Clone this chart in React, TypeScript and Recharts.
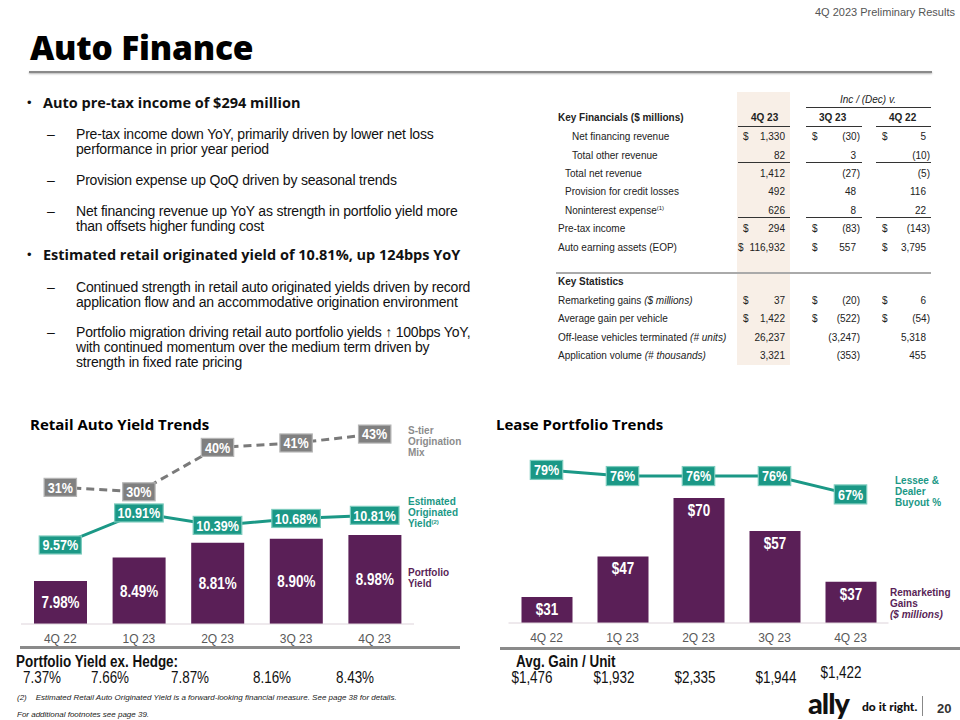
import React from "react";
import { ComposedChart, Bar, Line, XAxis, YAxis, LabelList } from "recharts";

const quarters = ["4Q 22", "1Q 23", "2Q 23", "3Q 23", "4Q 23"];

// Retail Auto Yield Trends
const portfolioYield = [7.98, 8.49, 8.81, 8.9, 8.98];
const originatedYield = [9.57, 10.91, 10.39, 10.68, 10.81];
const sTierMix = [31, 30, 40, 41, 43];

// Lease Portfolio Trends
const remarketingGains = [31, 47, 70, 57, 37];
const buyoutPct = [79, 76, 76, 76, 67];

// bottom rows
const yieldExHedge = [7.37, 7.66, 7.87, 8.16, 8.43];
const avgGainPerUnit = [1476, 1932, 2335, 1944, 1422];

// table
const finLabels = [
  "Net financing revenue",
  "Total other revenue",
  "Total net revenue",
  "Provision for credit losses",
  "Noninterest expense",
  "Pre-tax income",
  "Auto earning assets (EOP)",
];
const fin4Q23 = [1330, 82, 1412, 492, 626, 294, 116932];
const finVs3Q23 = [-30, 3, -27, 48, 8, -83, 557];
const finVs4Q22 = [5, -10, -5, 116, 22, -143, 3795];
const finDollarRows = [0, 5, 6];

const statLabels = [
  "Remarketing gains",
  "Average gain per vehicle",
  "Off-lease vehicles terminated",
  "Application volume",
];
const statUnits = ["($ millions)", "", "(# units)", "(# thousands)"];
const stat4Q23 = [37, 1422, 26237, 3321];
const statVs3Q23 = [-20, -522, -3247, -353];
const statVs4Q22 = [6, -54, 5318, 455];
const statDollarRows = [0, 1];

const PURPLE = "#5a1f57";
const TEAL = "#1b9886";
const GRAY = "#808080";
const ARIAL = "'Liberation Sans', Arial, sans-serif";
const HEAD = "'Open Sans', Lato, sans-serif";
const SQ = 0.84; // horizontal squeeze to mimic Arial Narrow

const yieldData = quarters.map((q, i) => ({
  q,
  port: portfolioYield[i],
  orig: originatedYield[i],
  stier: sTierMix[i],
}));

const leaseData = quarters.map((q, i) => ({
  q,
  gain: remarketingGains[i],
  buyout: buyoutPct[i],
}));

const fmtNum = (n: number) => {
  const s = Math.abs(n).toLocaleString("en-US");
  return n < 0 ? `(${s})` : s;
};

const textW = (s: string) => {
  let w = 0;
  for (const c of s) {
    if (c === "." || c === ",") w += 3.2;
    else if (c === "%") w += 10.4;
    else w += 6.5;
  }
  return w;
};

const pos = (p: any) => {
  const vb = p.viewBox || {};
  return {
    x: p.x ?? vb.x,
    y: p.y ?? vb.y,
    width: p.width ?? vb.width ?? 0,
    height: p.height ?? vb.height ?? 0,
  };
};

const NarrowText = ({ x, y, size, children }: any) => (
  <text
    transform={`translate(${x} ${y}) scale(${SQ} 1)`}
    dy="0.36em"
    textAnchor="middle"
    fill="#fff"
    fontSize={size}
    fontWeight={700}
    fontFamily={ARIAL}
  >
    {children}
  </text>
);

const boxLabel =
  (fill: string, stroke: string, fmt: (v: number) => string, h: number) =>
  (p: any) => {
    const { x, y } = pos(p);
    const text = fmt(p.value);
    const w = textW(text) + 9;
    return (
      <g>
        <rect x={x - w / 2} y={y - h / 2} width={w} height={h} fill={fill} stroke={stroke} strokeWidth={1.2} />
        <NarrowText x={x} y={y} size={15}>
          {text}
        </NarrowText>
      </g>
    );
  };

const barLabel =
  (fmt: (v: number) => string, mode: "center" | "top") =>
  (p: any) => {
    const { x, y, width, height } = pos(p);
    const cy = mode === "center" ? y + height / 2 : y + 12;
    return (
      <NarrowText x={x + width / 2} y={cy} size={16}>
        {fmt(p.value)}
      </NarrowText>
    );
  };

const T = ({ x, y, children, style, right }: any) => (
  <div
    style={{
      position: "absolute",
      left: right ? undefined : x,
      right: right ? 960 - x : undefined,
      top: y - 7,
      lineHeight: "14px",
      whiteSpace: "nowrap",
      ...style,
    }}
  >
    {children}
  </div>
);

// squeezed html text, centred on cx
const N = ({ cx, y, children, style }: any) => (
  <div
    style={{
      position: "absolute",
      left: cx - 60,
      width: 120,
      textAlign: "center",
      top: y - 8,
      lineHeight: "16px",
      whiteSpace: "nowrap",
      transform: `scaleX(${SQ})`,
      ...style,
    }}
  >
    {children}
  </div>
);

const tblRowsY = [137, 156, 174, 192, 211, 229, 248];
const statRowsY = [301, 319, 338, 356];

function TableRow({ y, label, indent, v1, v2, v3, dollar, unit }: any) {
  const ts = { fontSize: 10, fontFamily: ARIAL, color: "#222" };
  const val = (v: number, r: number) => (
    <T x={v < 0 ? r + 4 : r} y={y} right style={ts}>
      {fmtNum(v)}
    </T>
  );
  return (
    <>
      <T x={558 + indent} y={y} style={ts}>
        {label}
        {unit ? <i> {unit}</i> : null}
        {label === "Noninterest expense" ? (
          <span style={{ fontSize: 6, position: "relative", top: -4 }}>(1)</span>
        ) : null}
      </T>
      {dollar && <T x={v1 >= 100000 ? 738 : 743} y={y} style={ts}>$</T>}
      {dollar && <T x={812} y={y} style={ts}>$</T>}
      {dollar && <T x={882} y={y} style={ts}>$</T>}
      {val(v1, 785)}
      {val(v2, 856)}
      {val(v3, 926)}
    </>
  );
}

const HLine = ({ x1, x2, y, c = "#333", w = 1 }: any) => (
  <div style={{ position: "absolute", left: x1, top: y, width: x2 - x1, height: w, background: c }} />
);

export default function App() {
  const legendS = { fontSize: 10, fontWeight: 700, fontFamily: ARIAL, lineHeight: "11px" };
  const bodyS = { fontSize: 14, fontFamily: ARIAL, color: "#111", letterSpacing: -0.2 };
  const bulletS = { fontSize: 14.5, fontFamily: HEAD, fontWeight: 700, color: "#111" };
  const dotS = { fontSize: 13, fontFamily: ARIAL, color: "#111" };
  const qLabel = { fontSize: 12, fill: "#595959", fontFamily: ARIAL };

  return (
    <div style={{ position: "absolute", left: 0, top: 0, width: 960, height: 720, background: "#fff", overflow: "hidden" }}>
      <T x={955} y={12} right style={{ fontSize: 11, fontFamily: ARIAL, color: "#555" }}>
        4Q 2023 Preliminary Results
      </T>
      <div style={{ position: "absolute", left: 30, top: 27, fontSize: 33.5, fontWeight: 800, fontFamily: HEAD, color: "#000", lineHeight: "40px", letterSpacing: -0.2 }}>
        Auto Finance
      </div>
      <div style={{ position: "absolute", left: 29, top: 71, width: 903, height: 2, background: "#8a8a8a", boxShadow: "0 1px 2px rgba(0,0,0,0.3)" }} />

      {/* bullets */}
      <T x={27} y={103} style={dotS}>•</T>
      <T x={43} y={103} style={bulletS}>Auto pre-tax income of $294 million</T>
      <T x={47} y={134} style={bodyS}>–</T>
      <T x={76} y={134} style={bodyS}>Pre-tax income down YoY, primarily driven by lower net loss</T>
      <T x={76} y={149} style={bodyS}>performance in prior year period</T>
      <T x={47} y={180} style={bodyS}>–</T>
      <T x={76} y={180} style={bodyS}>Provision expense up QoQ driven by seasonal trends</T>
      <T x={47} y={211} style={bodyS}>–</T>
      <T x={76} y={211} style={bodyS}>Net financing revenue up YoY as strength in portfolio yield more</T>
      <T x={76} y={226} style={bodyS}>than offsets higher funding cost</T>
      <T x={27} y={255} style={dotS}>•</T>
      <T x={43} y={255} style={bulletS}>Estimated retail originated yield of 10.81%, up 124bps YoY</T>
      <T x={47} y={287} style={bodyS}>–</T>
      <T x={76} y={287} style={bodyS}>Continued strength in retail auto originated yields driven by record</T>
      <T x={76} y={302} style={bodyS}>application flow and an accommodative origination environment</T>
      <T x={47} y={332} style={bodyS}>–</T>
      <T x={76} y={332} style={bodyS}>Portfolio migration driving retail auto portfolio yields ↑ 100bps YoY,</T>
      <T x={76} y={347} style={bodyS}>with continued momentum over the medium term driven by</T>
      <T x={76} y={362} style={bodyS}>strength in fixed rate pricing</T>

      {/* table */}
      <div style={{ position: "absolute", left: 737, top: 92, width: 53, height: 273, background: "#f8efe7" }} />
      <T x={868 - 30} y={100} style={{ fontSize: 10, fontFamily: ARIAL, fontStyle: "italic", color: "#222", width: 60, textAlign: "center" }}>
        Inc / (Dec) v.
      </T>
      <HLine x1={806} x2={931} y={107} />
      <T x={558} y={118} style={{ fontSize: 10, fontFamily: ARIAL, fontWeight: 700, color: "#222" }}>
        Key Financials ($ millions)
      </T>
      <T x={751} y={118} style={{ fontSize: 10, fontFamily: ARIAL, fontWeight: 700, color: "#222" }}>4Q 23</T>
      <T x={819} y={118} style={{ fontSize: 10, fontFamily: ARIAL, fontWeight: 700, color: "#222" }}>3Q 23</T>
      <T x={889} y={118} style={{ fontSize: 10, fontFamily: ARIAL, fontWeight: 700, color: "#222" }}>4Q 22</T>
      {[126, 162, 217].map((y) => (
        <React.Fragment key={y}>
          <HLine x1={738} x2={790} y={y} />
          <HLine x1={806} x2={862} y={y} />
          <HLine x1={876} x2={931} y={y} />
        </React.Fragment>
      ))}
      {finLabels.map((l, i) => (
        <TableRow
          key={l}
          y={tblRowsY[i]}
          label={l}
          indent={i < 2 ? 14 : i < 5 ? 7 : 0}
          v1={fin4Q23[i]}
          v2={finVs3Q23[i]}
          v3={finVs4Q22[i]}
          dollar={finDollarRows.includes(i)}
        />
      ))}
      <HLine x1={556} x2={931} y={272} c="#aaa" w={2} />
      <T x={558} y={282} style={{ fontSize: 10, fontFamily: ARIAL, fontWeight: 700, color: "#222" }}>
        Key Statistics
      </T>
      {statLabels.map((l, i) => (
        <TableRow
          key={l}
          y={statRowsY[i]}
          label={l}
          unit={statUnits[i]}
          indent={0}
          v1={stat4Q23[i]}
          v2={statVs3Q23[i]}
          v3={statVs4Q22[i]}
          dollar={statDollarRows.includes(i)}
        />
      ))}

      {/* Retail Auto Yield Trends */}
      <T x={30} y={424} style={{ fontSize: 15, fontWeight: 700, fontFamily: HEAD, color: "#000" }}>
        Retail Auto Yield Trends
      </T>
      <div style={{ position: "absolute", left: 0, top: 400 }}>
        <ComposedChart width={480} height={250} data={yieldData} margin={{ top: 24, right: 66, bottom: 0, left: 21 }}>
          <XAxis dataKey="q" height={26} axisLine={{ stroke: "#ddd3da" }} tickLine={false} tickSize={0} tickMargin={10} tick={qLabel} />
          <YAxis yAxisId="port" hide domain={[7.045, 11.393]} allowDataOverflow />
          <YAxis yAxisId="orig" hide domain={[6.264, 14.632]} allowDataOverflow />
          <YAxis yAxisId="stier" hide domain={[0.225, 45.27]} allowDataOverflow />
          <Bar yAxisId="port" dataKey="port" fill={PURPLE} barSize={53} isAnimationActive={false}>
            <LabelList dataKey="port" content={barLabel((v) => `${v.toFixed(2)}%`, "center")} />
          </Bar>
          <Line yAxisId="stier" dataKey="stier" stroke="#7a7a7a" strokeWidth={3} strokeDasharray="8 5" dot={false} isAnimationActive={false}>
            <LabelList dataKey="stier" content={boxLabel(GRAY, "#b5b5b5", (v) => `${v}%`, 18)} />
          </Line>
          <Line yAxisId="orig" dataKey="orig" stroke={TEAL} strokeWidth={3} dot={false} isAnimationActive={false}>
            <LabelList dataKey="orig" content={boxLabel(TEAL, "#7ccbbd", (v) => `${v.toFixed(2)}%`, 18)} />
          </Line>
        </ComposedChart>
      </div>
      <div style={{ position: "absolute", left: 408, top: 425, color: "#8c8c8c", ...legendS }}>
        S-tier<br />Origination<br />Mix
      </div>
      <div style={{ position: "absolute", left: 408, top: 496, color: TEAL, ...legendS }}>
        Estimated<br />Originated<br />Yield<span style={{ fontSize: 6, position: "relative", top: -3 }}>(2)</span>
      </div>
      <div style={{ position: "absolute", left: 408, top: 567, color: PURPLE, ...legendS }}>
        Portfolio<br />Yield
      </div>
      <HLine x1={20} x2={460} y={646} c="#8a8a8a" w={3} />

      {/* Lease Portfolio Trends */}
      <T x={496} y={424} style={{ fontSize: 15, fontWeight: 700, fontFamily: HEAD, color: "#000" }}>
        Lease Portfolio Trends
      </T>
      <div style={{ position: "absolute", left: 480, top: 400 }}>
        <ComposedChart width={480} height={250} data={leaseData} margin={{ top: 24, right: 71.5, bottom: 0, left: 28.5 }}>
          <XAxis dataKey="q" height={27} axisLine={{ stroke: "#ddd3da" }} tickLine={false} tickSize={0} tickMargin={10} tick={qLabel} />
          <YAxis yAxisId="gain" hide domain={[20.8, 99.1]} allowDataOverflow />
          <YAxis yAxisId="buy" hide domain={[4, 101.5]} allowDataOverflow />
          <Bar yAxisId="gain" dataKey="gain" fill={PURPLE} barSize={51} isAnimationActive={false}>
            <LabelList dataKey="gain" content={barLabel((v) => `$${v}`, "top")} />
          </Bar>
          <Line yAxisId="buy" dataKey="buyout" stroke={TEAL} strokeWidth={3} dot={false} isAnimationActive={false}>
            <LabelList dataKey="buyout" content={boxLabel(TEAL, "#7ccbbd", (v) => `${v}%`, 19)} />
          </Line>
        </ComposedChart>
      </div>
      <div style={{ position: "absolute", left: 895, top: 475, color: TEAL, ...legendS }}>
        Lessee &amp;<br />Dealer<br />Buyout %
      </div>
      <div style={{ position: "absolute", left: 890, top: 587, color: PURPLE, ...legendS }}>
        Remarketing<br />Gains<br /><i>($ millions)</i>
      </div>
      <HLine x1={500} x2={960} y={647} c="#8a8a8a" w={3} />

      {/* bottom rows */}
      <div style={{ position: "absolute", left: 16, top: 654, lineHeight: "16px", fontSize: 16, fontWeight: 700, fontFamily: ARIAL, color: "#111", whiteSpace: "nowrap", transform: `scaleX(${SQ})`, transformOrigin: "left" }}>
        Portfolio Yield ex. Hedge:
      </div>
      {yieldExHedge.map((v, i) => (
        <N key={i} cx={[42, 110, 190, 272, 355][i]} y={678} style={{ fontSize: 16, fontFamily: ARIAL, color: "#111" }}>
          {v.toFixed(2)}%
        </N>
      ))}
      <div style={{ position: "absolute", left: 516, top: 654, lineHeight: "16px", fontSize: 16, fontWeight: 700, fontFamily: ARIAL, color: "#111", whiteSpace: "nowrap", transform: `scaleX(${SQ})`, transformOrigin: "left" }}>
        Avg. Gain / Unit
      </div>
      {avgGainPerUnit.map((v, i) => (
        <N key={i} cx={[532, 614, 695, 776, 841][i]} y={i === 4 ? 673 : 678} style={{ fontSize: 16, fontFamily: ARIAL, color: "#111" }}>
          ${v.toLocaleString("en-US")}
        </N>
      ))}
      <T x={17} y={698} style={{ fontSize: 8, fontStyle: "italic", fontFamily: ARIAL, color: "#222" }}>
        (2)&nbsp;&nbsp;&nbsp; Estimated Retail Auto Originated Yield is a forward-looking financial measure. See page 38 for details.
      </T>
      <T x={17} y={715} style={{ fontSize: 8, fontStyle: "italic", fontFamily: ARIAL, color: "#222" }}>
        For additional footnotes see page 39.
      </T>
      <T x={808} y={703} style={{ fontSize: 29, fontWeight: 900, fontFamily: "Lato, sans-serif", color: "#111", letterSpacing: -1, lineHeight: "14px" }}>
        ally
      </T>
      <T x={862} y={707} style={{ fontSize: 12, fontWeight: 900, fontFamily: "Lato, sans-serif", color: "#111" }}>
        do it right.
      </T>
      <div style={{ position: "absolute", left: 922, top: 696, width: 1, height: 20, background: "#888" }} />
      <T x={937} y={709} style={{ fontSize: 13, fontWeight: 700, fontFamily: ARIAL, color: "#333" }}>
        20
      </T>
    </div>
  );
}
